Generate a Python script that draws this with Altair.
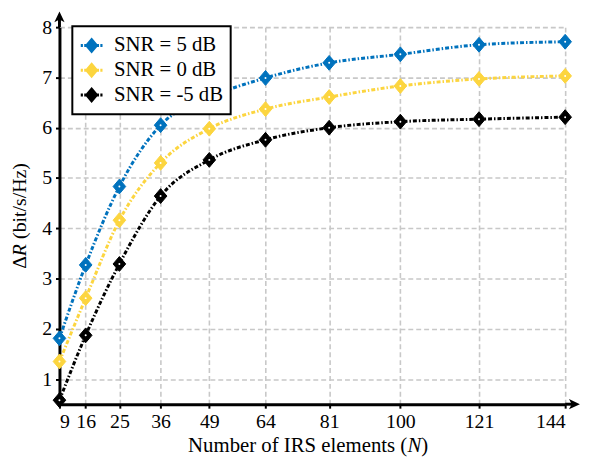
import altair as alt
import pandas as pd

# ---- data ----
n_elements = [9, 16, 25, 36, 49, 64, 81, 100, 121, 144]
snr_labels = ["SNR = 5 dB", "SNR = 0 dB", "SNR = -5 dB"]
snr_p5 = [1.81, 3.27, 4.83, 6.05, 6.60, 6.99, 7.29, 7.46, 7.65, 7.71]
snr_0 = [1.35, 2.61, 4.16, 5.30, 5.98, 6.37, 6.61, 6.83, 6.97, 7.03]
snr_m5 = [0.58, 1.87, 3.29, 4.64, 5.36, 5.76, 6.00, 6.12, 6.17, 6.21]
y_ticks = [1, 2, 3, 4, 5, 6, 7, 8]
colors = ["#0072BD", "#FCD53F", "#000000"]

rows = []
for lab, vals in zip(snr_labels, [snr_p5, snr_0, snr_m5]):
    for n, v in zip(n_elements, vals):
        rows.append({"N": n, "dR": v, "series": lab})
df = pd.DataFrame(rows)

FONT = "Liberation Serif"
W, H = 511, 381

LEG_PATH = ("M-1,0L-0.8,0M-0.68,0L-0.52,0M0,-0.52L0.44,0L0,0.52L-0.44,0Z"
            "M0.52,0L0.68,0M0.8,0L1,0")
DIAMOND = "M0,-1L0.85,0L0,1L-0.85,0Z"

leg = alt.Legend(title=None, orient="none", legendX=13, legendY=-1,
                 symbolType=LEG_PATH, symbolSize=484, symbolStrokeWidth=3,
                 symbolOpacity=1,
                 labelFont=FONT, labelFontSize=21, labelColor="black",
                 labelOffset=10, padding=7, rowPadding=-1,
                 strokeColor="black", fillColor="white",
                 cornerRadius=0)

scale = alt.Scale(domain=snr_labels, range=colors)

xenc = alt.X("N:Q", scale=alt.Scale(domain=[9, 144], nice=False, zero=False),
             axis=alt.Axis(values=n_elements, title=None, format="d",
                           labelFont=FONT))
yenc = alt.Y("dR:Q", scale=alt.Scale(domain=[0.5, 8], nice=False, zero=False),
             axis=alt.Axis(values=y_ticks, title=None, format="d",
                           labelFont=FONT))

base = alt.Chart(df)

lines = base.mark_line(strokeWidth=3, strokeDash=[4, 2, 1.5, 2],
                       interpolate="monotone", strokeCap="butt").encode(
    x=xenc, y=yenc,
    stroke=alt.Stroke("series:N", scale=scale, legend=leg),
)

points = base.mark_point(shape=DIAMOND, size=225, filled=True, opacity=1,
                         strokeWidth=1).encode(
    x=xenc, y=yenc,
    fill=alt.Fill("series:N", scale=scale, legend=leg),
    stroke=alt.Stroke("series:N", scale=scale, legend=leg),
)

dots = base.mark_point(shape="circle", size=4, filled=True, color="white",
                       opacity=1).encode(x=xenc, y=yenc)

one = pd.DataFrame({"k": [0]})

# axis extensions and arrowheads
yext = alt.Chart(one).mark_rule(color="black", strokeWidth=3).encode(
    x=alt.value(0), y=alt.value(0), y2=alt.value(-10))
xext = alt.Chart(one).mark_rule(color="black", strokeWidth=3).encode(
    x=alt.value(W), x2=alt.value(W + 10), y=alt.value(H))
yarrow = alt.Chart(one).mark_point(shape="M0,-1L0.75,0.6L0,0.2L-0.75,0.6Z",
                                   size=190, filled=True, color="black",
                                   opacity=1).encode(
    x=alt.value(0), y=alt.value(-9))
xarrow = alt.Chart(one).mark_point(shape="M1,0L-0.6,0.75L-0.2,0L-0.6,-0.75Z",
                                   size=190, filled=True, color="black",
                                   opacity=1).encode(
    x=alt.value(W + 8), y=alt.value(H))

# axis titles (with italic symbols)
def txt(s, x, y, angle=0, italic=False, size=21):
    kw = dict(align="left", baseline="alphabetic", font=FONT, fontSize=size,
              color="black")
    if angle:
        kw["angle"] = angle
    if italic:
        kw["fontStyle"] = "italic"
    return alt.Chart(pd.DataFrame({"t": [s]})).mark_text(**kw).encode(
        x=alt.value(x), y=alt.value(y), text="t:N")

xt1 = txt("Number of IRS elements (", 130, 429)
xt2 = txt("N", 351.6, 429, italic=True)
xt3 = txt(")", 365.6, 429)

yt1 = txt("Δ", -34, 244, angle=270, size=20)
yt2 = txt("R", -34, 231.5, angle=270, italic=True, size=20)
yt3 = txt("(bit/s/Hz)", -34, 214, angle=270, size=20)

chart = alt.layer(
    lines, points, dots, yext, xext, yarrow, xarrow,
    xt1, xt2, xt3, yt1, yt2, yt3
).properties(
    width=W, height=H,
    autosize=alt.AutoSizeParams(type="none"),
    padding={"left": 52, "top": 17, "right": 16, "bottom": 52},
).configure(font=FONT).configure_view(stroke=None).configure_axis(
    labelFont=FONT, labelFontSize=20, labelColor="black",
    domainColor="black", domainWidth=3,
    tickColor="black", tickWidth=2, tickSize=4, labelPadding=4,
    grid=True, gridColor="#c8c8c8", gridDash=[5, 3], gridWidth=1.6,
    gridOpacity=1,
).configure_legend(strokeWidth=2, labelFont=FONT)

chart.save("out.html", embed_options={"renderer": "svg", "actions": False})
